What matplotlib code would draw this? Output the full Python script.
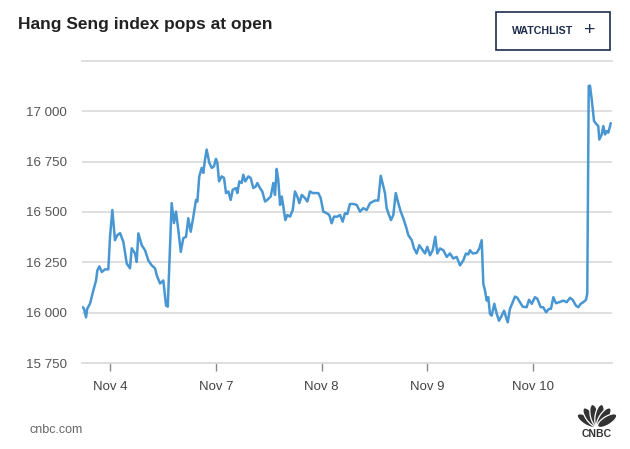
import math
import matplotlib.pyplot as plt
from matplotlib.patches import Rectangle, Ellipse

# position in trading days (Nov 4 = 1, Nov 7 = 2, ...) and Hang Seng level
t_days = [
    0.742, 0.754, 0.773, 0.785, 0.811, 0.842, 0.868, 0.880, 0.899, 0.922,
    0.953, 0.984, 1.000, 1.022, 1.047, 1.069, 1.095, 1.126, 1.158, 1.189,
    1.205, 1.236, 1.252, 1.268, 1.300, 1.331, 1.362, 1.394, 1.426, 1.442,
    1.473, 1.504, 1.530, 1.546, 1.583, 1.605, 1.624, 1.646, 1.669, 1.693,
    1.719, 1.740, 1.763, 1.788, 1.813, 1.826, 1.844, 1.867, 1.882, 1.898,
    1.914, 1.939, 1.962, 1.983, 2.002, 2.015, 2.031, 2.056, 2.078, 2.097,
    2.119, 2.141, 2.160, 2.191, 2.204, 2.223, 2.245, 2.260, 2.279, 2.308,
    2.330, 2.355, 2.378, 2.393, 2.418, 2.440, 2.466, 2.487, 2.520, 2.544,
    2.560, 2.576, 2.591, 2.608, 2.624, 2.639, 2.658, 2.677, 2.702, 2.728,
    2.749, 2.771, 2.790, 2.813, 2.844, 2.866, 2.891, 2.917, 2.970, 2.992,
    3.017, 3.049, 3.074, 3.096, 3.118, 3.149, 3.175, 3.200, 3.222, 3.244,
    3.269, 3.301, 3.333, 3.364, 3.395, 3.427, 3.459, 3.506, 3.537, 3.560,
    3.584, 3.600, 3.616, 3.638, 3.657, 3.679, 3.702, 3.726, 3.749, 3.773,
    3.799, 3.821, 3.853, 3.875, 3.900, 3.925, 3.957, 3.979, 4.000, 4.026,
    4.051, 4.076, 4.095, 4.120, 4.152, 4.184, 4.215, 4.246, 4.278, 4.310,
    4.341, 4.366, 4.388, 4.404, 4.430, 4.468, 4.492, 4.515, 4.530, 4.546,
    4.562, 4.577, 4.593, 4.609, 4.634, 4.657, 4.678, 4.704, 4.726, 4.745,
    4.761, 4.782, 4.808, 4.830, 4.851, 4.877, 4.902, 4.940, 4.962, 4.988,
    5.019, 5.041, 5.073, 5.097, 5.123, 5.151, 5.170, 5.192, 5.217, 5.249,
    5.286, 5.319, 5.350, 5.375, 5.406, 5.428, 5.451, 5.476, 5.501, 5.513,
    5.527, 5.539, 5.555, 5.577, 5.602, 5.617, 5.627, 5.650, 5.665, 5.681,
    5.697, 5.712, 5.735,
]
hsi = [
    16026, 16020, 15977, 16020, 16045, 16110, 16160, 16210, 16230, 16202,
    16215, 16215, 16377, 16510, 16360, 16385, 16395, 16352, 16244, 16220,
    16320, 16295, 16252, 16394, 16335, 16310, 16260, 16235, 16220, 16185,
    16145, 16160, 16035, 16030, 16544, 16445, 16502, 16410, 16302, 16370,
    16377, 16469, 16402, 16477, 16560, 16552, 16677, 16719, 16694, 16760,
    16810, 16744, 16719, 16727, 16764, 16744, 16652, 16677, 16669, 16594,
    16602, 16560, 16610, 16619, 16594, 16652, 16644, 16685, 16652, 16677,
    16669, 16619, 16627, 16644, 16619, 16602, 16552, 16560, 16577, 16644,
    16585, 16714, 16660, 16535, 16577, 16527, 16460, 16485, 16477, 16510,
    16602, 16577, 16544, 16585, 16569, 16552, 16602, 16594, 16594, 16569,
    16502, 16494, 16485, 16444, 16477, 16477, 16485, 16452, 16494, 16490,
    16540, 16540, 16535, 16502, 16519, 16510, 16544, 16557, 16557, 16680,
    16627, 16594, 16519, 16485, 16460, 16485, 16594, 16544, 16502, 16469,
    16427, 16385, 16360, 16319, 16294, 16335, 16310, 16294, 16327, 16285,
    16310, 16377, 16294, 16319, 16310, 16277, 16294, 16269, 16277, 16235,
    16260, 16294, 16289, 16310, 16294, 16297, 16319, 16360, 16144, 16110,
    16060, 16077, 15994, 15985, 16044, 15994, 15960, 15985, 16010, 15977,
    15952, 16019, 16052, 16080, 16074, 16052, 16030, 16027, 16064, 16044,
    16077, 16069, 16027, 16027, 16002, 16019, 16019, 16077, 16047, 16052,
    16060, 16052, 16074, 16064, 16035, 16027, 16044, 16052, 16064, 16094,
    17127, 17127, 17060, 16952, 16935, 16927, 16860, 16885, 16927, 16885,
    16902, 16894, 16940,
]
day_ticks = [1, 2, 3, 4, 5]
day_labels = ["Nov 4", "Nov 7", "Nov 8", "Nov 9", "Nov 10"]
level_ticks = [15750, 16000, 16250, 16500, 16750, 17000]

W, H = 630, 449
FONT = "Liberation Sans"
GRID = "#dcdcdc"
NAVY = "#1d2c4c"

fig = plt.figure(figsize=(W / 100, H / 100), dpi=100)
fig.patch.set_facecolor("white")

ax = fig.add_axes([82 / W, (H - 363) / H, (612 - 82) / W, (363 - 61) / H])
ax.plot(t_days, hsi, color="#4896d2", lw=1.8, solid_joinstyle="round", zorder=3)
ax.set_xlim(0.735, 5.747)
ax.set_ylim(15750, 17250)

ax.set_yticks(level_ticks)
ax.set_yticklabels([f"{v:,}".replace(",", " ") for v in level_ticks],
                   fontfamily=FONT)
ax.yaxis.grid(True, color=GRID, lw=1.3)
ax.tick_params(axis="y", length=0, pad=11, labelsize=9.6, labelcolor="#555555")

ax.set_xticks(day_ticks)
ax.set_xticklabels(day_labels, fontfamily=FONT)
ax.tick_params(axis="x", length=6, width=1, color="#888888", pad=7,
               labelsize=9.5, labelcolor="#444444")

for side in ["left", "right"]:
    ax.spines[side].set_visible(False)
for side in ["top", "bottom"]:
    ax.spines[side].set_color(GRID)
    ax.spines[side].set_linewidth(1.3)

# header, button and footer drawn in figure pixels
deco = fig.add_axes([0, 0, 1, 1])
deco.set_xlim(0, W)
deco.set_ylim(H, 0)
deco.axis("off")

deco.text(18, 25, "Hang Seng index pops at open", fontsize=12.5,
          fontweight="bold", color="#222222", va="center", family=FONT)

deco.add_patch(Rectangle((496, 12), 114, 38, fill=False, edgecolor=NAVY, lw=1.2))
deco.text(512, 31.5, "WATCHLIST", fontsize=7.7, fontweight="bold", color=NAVY,
          va="center", family=FONT)
deco.text(590, 30.5, "+", fontsize=14, color=NAVY, va="center", ha="center",
          family=FONT)

deco.text(30, 430, "cnbc.com", fontsize=9, color="#666666", va="center",
          family=FONT)

# small CNBC peacock
bx, by = 597, 427
for ang in [-58, -35, -12, 12, 35, 58]:
    a = math.radians(ang)
    cx = bx + 12 * math.sin(a)
    cy = by - 12 * math.cos(a)
    deco.add_patch(Ellipse((cx, cy), 8.5, 22, angle=ang, facecolor="#333333",
                           edgecolor="white", lw=0.9))
deco.text(bx, 434, "CNBC", fontsize=7.5, fontweight="bold", color="#333333",
          ha="center", va="center", family=FONT)

fig.savefig("out.png", dpi=100)
